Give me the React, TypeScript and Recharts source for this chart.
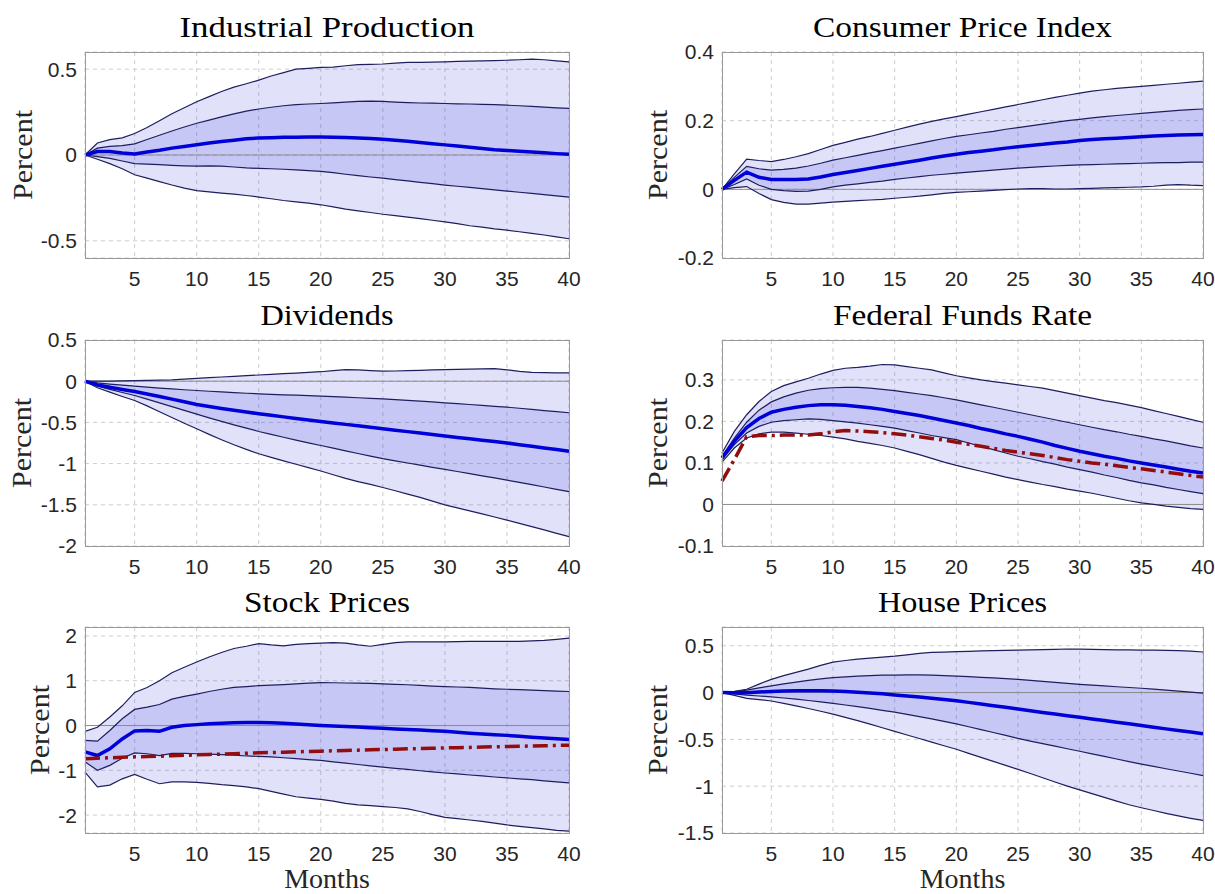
import {
  Area,
  CartesianGrid,
  ComposedChart,
  Line,
  ReferenceLine,
  XAxis,
  YAxis,
} from 'recharts'

// horizon in months
const months = [
  1, 2, 3, 4, 5, 6, 7, 8, 9, 10, 11, 12, 13, 14, 15, 16, 17, 18, 19, 20,
  21, 22, 23, 24, 25, 26, 27, 28, 29, 30, 31, 32, 33, 34, 35, 36, 37, 38, 39, 40,
]
const monthTicks = [5, 10, 15, 20, 25, 30, 35, 40]

// Industrial Production
const ipOuterHi = [0, 0.07, 0.09, 0.1, 0.125, 0.16, 0.2, 0.24, 0.275, 0.31, 0.34, 0.37, 0.395, 0.415, 0.436, 0.46, 0.48, 0.5, 0.505, 0.51, 0.512, 0.52, 0.527, 0.528, 0.53, 0.535, 0.54, 0.54, 0.541, 0.543, 0.545, 0.547, 0.548, 0.55, 0.552, 0.555, 0.558, 0.555, 0.548, 0.542]
const ipInnerHi = [0, 0.04, 0.05, 0.055, 0.065, 0.09, 0.115, 0.14, 0.163, 0.185, 0.203, 0.222, 0.24, 0.256, 0.268, 0.278, 0.287, 0.293, 0.297, 0.3, 0.304, 0.308, 0.312, 0.314, 0.312, 0.308, 0.305, 0.303, 0.302, 0.3, 0.298, 0.297, 0.295, 0.293, 0.29, 0.287, 0.283, 0.279, 0.275, 0.272]
const ipMedian = [0, 0.02, 0.02, 0.012, 0.006, 0.018, 0.028, 0.04, 0.05, 0.06, 0.07, 0.078, 0.086, 0.094, 0.099, 0.101, 0.103, 0.104, 0.105, 0.105, 0.104, 0.102, 0.099, 0.096, 0.092, 0.086, 0.08, 0.073, 0.066, 0.059, 0.052, 0.045, 0.038, 0.031, 0.026, 0.022, 0.018, 0.013, 0.008, 0.004]
const ipInnerLo = [0, -0.01, -0.02, -0.035, -0.05, -0.053, -0.056, -0.06, -0.063, -0.065, -0.063, -0.065, -0.07, -0.075, -0.078, -0.08, -0.083, -0.087, -0.091, -0.095, -0.103, -0.112, -0.12, -0.128, -0.135, -0.143, -0.151, -0.159, -0.167, -0.175, -0.182, -0.189, -0.196, -0.203, -0.21, -0.217, -0.224, -0.231, -0.238, -0.245]
const ipOuterLo = [0, -0.025, -0.05, -0.08, -0.115, -0.135, -0.155, -0.175, -0.193, -0.207, -0.215, -0.222, -0.228, -0.236, -0.245, -0.255, -0.265, -0.273, -0.28, -0.29, -0.302, -0.315, -0.325, -0.335, -0.345, -0.353, -0.362, -0.371, -0.38, -0.39, -0.4, -0.412, -0.42, -0.43, -0.438, -0.447, -0.456, -0.466, -0.477, -0.488]

// Consumer Price Index
const cpiOuterHi = [0, 0.045, 0.088, 0.084, 0.081, 0.087, 0.095, 0.104, 0.116, 0.128, 0.137, 0.146, 0.154, 0.163, 0.172, 0.181, 0.19, 0.198, 0.205, 0.212, 0.219, 0.226, 0.233, 0.24, 0.247, 0.254, 0.261, 0.268, 0.274, 0.28, 0.286, 0.29, 0.294, 0.297, 0.3, 0.303, 0.306, 0.309, 0.312, 0.315]
const cpiInnerHi = [0, 0.035, 0.067, 0.06, 0.056, 0.058, 0.062, 0.068, 0.076, 0.085, 0.092, 0.099, 0.106, 0.113, 0.12, 0.127, 0.134, 0.141, 0.148, 0.154, 0.159, 0.164, 0.169, 0.175, 0.18, 0.185, 0.19, 0.195, 0.2, 0.204, 0.208, 0.212, 0.215, 0.218, 0.221, 0.224, 0.227, 0.23, 0.232, 0.234]
const cpiMedian = [0, 0.026, 0.05, 0.035, 0.029, 0.029, 0.029, 0.03, 0.036, 0.043, 0.049, 0.055, 0.061, 0.067, 0.073, 0.079, 0.085, 0.091, 0.097, 0.102, 0.107, 0.111, 0.115, 0.12, 0.124, 0.128, 0.131, 0.135, 0.138, 0.142, 0.145, 0.147, 0.149, 0.151, 0.153, 0.155, 0.157, 0.158, 0.159, 0.16]
const cpiInnerLo = [0, 0.014, 0.03, 0.012, 0, -0.004, -0.006, -0.005, 0, 0.007, 0.012, 0.016, 0.02, 0.024, 0.029, 0.033, 0.037, 0.041, 0.044, 0.047, 0.05, 0.053, 0.056, 0.059, 0.062, 0.064, 0.066, 0.068, 0.07, 0.071, 0.072, 0.073, 0.074, 0.075, 0.076, 0.077, 0.078, 0.078, 0.079, 0.079]
const cpiOuterLo = [0, 0.005, 0.008, -0.012, -0.03, -0.038, -0.043, -0.043, -0.04, -0.037, -0.035, -0.033, -0.031, -0.029, -0.026, -0.023, -0.02, -0.016, -0.012, -0.009, -0.007, -0.005, -0.003, -0.001, 0.001, 0.002, 0.002, 0.001, 0.001, 0.002, 0.003, 0.004, 0.005, 0.006, 0.007, 0.009, 0.012, 0.014, 0.012, 0.011]

// Dividends
const divOuterHi = [0, 0, 0.002, 0.004, 0.006, 0.009, 0.012, 0.016, 0.025, 0.035, 0.043, 0.051, 0.059, 0.067, 0.075, 0.083, 0.091, 0.099, 0.107, 0.115, 0.128, 0.14, 0.137, 0.128, 0.122, 0.124, 0.128, 0.132, 0.137, 0.14, 0.143, 0.146, 0.15, 0.153, 0.138, 0.12, 0.108, 0.103, 0.101, 0.1]
const divInnerHi = [0, -0.02, -0.035, -0.048, -0.06, -0.072, -0.083, -0.094, -0.104, -0.113, -0.122, -0.13, -0.138, -0.146, -0.153, -0.159, -0.165, -0.17, -0.175, -0.18, -0.187, -0.194, -0.201, -0.208, -0.214, -0.223, -0.232, -0.242, -0.252, -0.262, -0.272, -0.283, -0.294, -0.305, -0.315, -0.328, -0.342, -0.356, -0.37, -0.383]
const divMedian = [0, -0.045, -0.073, -0.1, -0.125, -0.155, -0.186, -0.218, -0.25, -0.283, -0.308, -0.331, -0.353, -0.374, -0.395, -0.414, -0.433, -0.452, -0.47, -0.488, -0.506, -0.524, -0.542, -0.56, -0.577, -0.595, -0.612, -0.63, -0.648, -0.665, -0.682, -0.699, -0.716, -0.733, -0.75, -0.77, -0.79, -0.81, -0.83, -0.85]
const divInnerLo = [0, -0.06, -0.1, -0.137, -0.173, -0.218, -0.263, -0.308, -0.354, -0.4, -0.445, -0.488, -0.53, -0.57, -0.61, -0.645, -0.68, -0.715, -0.748, -0.78, -0.812, -0.845, -0.877, -0.909, -0.94, -0.967, -0.993, -1.019, -1.045, -1.07, -1.096, -1.122, -1.148, -1.174, -1.2, -1.228, -1.256, -1.284, -1.312, -1.34]
const divOuterLo = [0, -0.08, -0.133, -0.185, -0.234, -0.3, -0.37, -0.44, -0.51, -0.577, -0.645, -0.71, -0.772, -0.828, -0.88, -0.925, -0.967, -1.008, -1.048, -1.09, -1.135, -1.18, -1.218, -1.253, -1.29, -1.33, -1.37, -1.41, -1.455, -1.5, -1.537, -1.574, -1.611, -1.648, -1.685, -1.725, -1.765, -1.805, -1.846, -1.887]

// Federal Funds Rate
const ffrOuterHi = [0.124, 0.176, 0.216, 0.248, 0.272, 0.286, 0.295, 0.304, 0.314, 0.323, 0.328, 0.33, 0.333, 0.337, 0.336, 0.332, 0.328, 0.324, 0.317, 0.31, 0.305, 0.3, 0.296, 0.292, 0.288, 0.284, 0.28, 0.274, 0.268, 0.262, 0.256, 0.25, 0.245, 0.239, 0.233, 0.226, 0.219, 0.212, 0.205, 0.198]
const ffrInnerHi = [0.116, 0.16, 0.198, 0.227, 0.247, 0.259, 0.268, 0.275, 0.279, 0.281, 0.282, 0.282, 0.28, 0.277, 0.274, 0.27, 0.266, 0.262, 0.257, 0.252, 0.246, 0.24, 0.234, 0.228, 0.222, 0.216, 0.21, 0.204, 0.198, 0.192, 0.186, 0.18, 0.175, 0.169, 0.164, 0.158, 0.153, 0.147, 0.141, 0.136]
const ffrMedian = [0.112, 0.152, 0.185, 0.207, 0.222, 0.229, 0.234, 0.238, 0.24, 0.24, 0.239, 0.236, 0.233, 0.229, 0.224, 0.219, 0.214, 0.208, 0.202, 0.196, 0.19, 0.183, 0.177, 0.17, 0.164, 0.157, 0.15, 0.142, 0.135, 0.128, 0.122, 0.116, 0.111, 0.105, 0.1, 0.095, 0.09, 0.085, 0.08, 0.076]
const ffrInnerLo = [0.108, 0.144, 0.172, 0.188, 0.198, 0.202, 0.204, 0.206, 0.205, 0.202, 0.199, 0.196, 0.192, 0.188, 0.184, 0.178, 0.172, 0.166, 0.161, 0.156, 0.148, 0.14, 0.132, 0.124, 0.116, 0.11, 0.103, 0.097, 0.09, 0.084, 0.078, 0.071, 0.065, 0.058, 0.052, 0.047, 0.041, 0.036, 0.031, 0.026]
const ffrOuterLo = [0.102, 0.136, 0.16, 0.17, 0.174, 0.174, 0.172, 0.169, 0.166, 0.162, 0.158, 0.152, 0.147, 0.142, 0.136, 0.128, 0.12, 0.111, 0.102, 0.094, 0.087, 0.08, 0.073, 0.066, 0.06, 0.054, 0.048, 0.043, 0.037, 0.032, 0.027, 0.021, 0.015, 0.009, 0.004, 0, -0.004, -0.007, -0.01, -0.012]
const ffrRed = [0.056, 0.108, 0.163, 0.166, 0.166, 0.167, 0.167, 0.167, 0.17, 0.175, 0.178, 0.177, 0.175, 0.173, 0.17, 0.167, 0.163, 0.159, 0.155, 0.15, 0.145, 0.14, 0.135, 0.13, 0.126, 0.122, 0.118, 0.113, 0.108, 0.104, 0.1, 0.097, 0.093, 0.089, 0.086, 0.082, 0.078, 0.074, 0.07, 0.066]

// Stock Prices
const spOuterHi = [-0.13, -0.04, 0.19, 0.44, 0.74, 0.85, 1.0, 1.18, 1.3, 1.42, 1.53, 1.63, 1.72, 1.77, 1.83, 1.8, 1.78, 1.81, 1.83, 1.84, 1.85, 1.84, 1.8, 1.77, 1.81, 1.85, 1.87, 1.87, 1.87, 1.87, 1.875, 1.88, 1.88, 1.88, 1.88, 1.88, 1.89, 1.9, 1.925, 1.95]
const spInnerHi = [-0.33, -0.35, -0.11, 0.15, 0.36, 0.41, 0.47, 0.59, 0.65, 0.7, 0.76, 0.81, 0.85, 0.87, 0.89, 0.9, 0.915, 0.93, 0.945, 0.96, 0.955, 0.95, 0.945, 0.94, 0.93, 0.92, 0.91, 0.895, 0.88, 0.87, 0.86, 0.85, 0.835, 0.82, 0.81, 0.8, 0.79, 0.78, 0.77, 0.76]
const spMedian = [-0.59, -0.67, -0.52, -0.3, -0.12, -0.11, -0.13, -0.04, 0, 0.02, 0.04, 0.05, 0.06, 0.065, 0.065, 0.06, 0.05, 0.035, 0.015, 0, -0.01, -0.02, -0.035, -0.05, -0.06, -0.075, -0.09, -0.1, -0.115, -0.13, -0.15, -0.17, -0.19, -0.205, -0.22, -0.24, -0.26, -0.28, -0.295, -0.31]
const spInnerLo = [-0.81, -1.0, -0.89, -0.73, -0.61, -0.63, -0.67, -0.62, -0.62, -0.63, -0.64, -0.65, -0.66, -0.68, -0.69, -0.7, -0.72, -0.74, -0.76, -0.78, -0.81, -0.84, -0.87, -0.9, -0.93, -0.955, -0.98, -1.01, -1.035, -1.06, -1.08, -1.105, -1.125, -1.15, -1.17, -1.19, -1.21, -1.235, -1.26, -1.28]
const spOuterLo = [-1.04, -1.37, -1.33, -1.19, -1.09, -1.2, -1.3, -1.26, -1.26, -1.27, -1.29, -1.32, -1.34, -1.37, -1.41, -1.47, -1.53, -1.59, -1.62, -1.65, -1.69, -1.74, -1.77, -1.79, -1.81, -1.83, -1.86, -1.92, -1.99, -2.05, -2.08, -2.11, -2.14, -2.18, -2.22, -2.25, -2.28, -2.31, -2.34, -2.36]
const spRed = [-0.74, -0.73, -0.72, -0.71, -0.7, -0.69, -0.685, -0.675, -0.665, -0.655, -0.645, -0.638, -0.63, -0.62, -0.61, -0.603, -0.595, -0.587, -0.58, -0.572, -0.565, -0.558, -0.55, -0.543, -0.536, -0.528, -0.521, -0.514, -0.507, -0.5, -0.494, -0.488, -0.482, -0.475, -0.469, -0.463, -0.457, -0.451, -0.445, -0.44]

// House Prices
const hpOuterHi = [0, 0.012, 0.035, 0.09, 0.14, 0.18, 0.215, 0.25, 0.29, 0.325, 0.342, 0.356, 0.368, 0.378, 0.388, 0.402, 0.418, 0.428, 0.432, 0.437, 0.44, 0.444, 0.447, 0.45, 0.454, 0.456, 0.458, 0.461, 0.465, 0.463, 0.46, 0.458, 0.456, 0.455, 0.454, 0.453, 0.451, 0.448, 0.442, 0.433]
const hpInnerHi = [0, 0.01, 0.025, 0.05, 0.072, 0.093, 0.112, 0.13, 0.146, 0.16, 0.168, 0.175, 0.181, 0.185, 0.187, 0.188, 0.188, 0.185, 0.181, 0.176, 0.17, 0.163, 0.156, 0.148, 0.14, 0.13, 0.12, 0.109, 0.098, 0.088, 0.08, 0.071, 0.062, 0.054, 0.046, 0.036, 0.026, 0.015, 0.004, -0.007]
const hpMedian = [0, -0.002, -0.002, 0.005, 0.012, 0.016, 0.018, 0.019, 0.019, 0.017, 0.011, 0.004, -0.004, -0.014, -0.025, -0.036, -0.048, -0.061, -0.074, -0.088, -0.105, -0.122, -0.14, -0.158, -0.176, -0.194, -0.212, -0.229, -0.247, -0.264, -0.282, -0.299, -0.317, -0.334, -0.352, -0.37, -0.388, -0.405, -0.422, -0.44]
const hpInnerLo = [0, -0.015, -0.028, -0.037, -0.046, -0.058, -0.071, -0.085, -0.1, -0.116, -0.133, -0.151, -0.17, -0.19, -0.21, -0.233, -0.257, -0.282, -0.308, -0.335, -0.365, -0.396, -0.427, -0.458, -0.49, -0.518, -0.545, -0.572, -0.6, -0.627, -0.655, -0.682, -0.71, -0.737, -0.764, -0.789, -0.814, -0.838, -0.862, -0.887]
const hpOuterLo = [0, -0.03, -0.062, -0.075, -0.09, -0.115, -0.142, -0.17, -0.2, -0.23, -0.265, -0.3, -0.337, -0.376, -0.415, -0.453, -0.491, -0.53, -0.568, -0.606, -0.649, -0.692, -0.735, -0.778, -0.82, -0.865, -0.91, -0.955, -1.0, -1.04, -1.08, -1.12, -1.16, -1.198, -1.23, -1.26, -1.29, -1.318, -1.343, -1.366]

type PanelSpec = {
  title: string
  titleWidth: number
  row: number
  col: number
  yTicks: number[]
  yDomain: [number, number]
  percentX: number
  outerLo: number[]
  innerLo: number[]
  median: number[]
  innerHi: number[]
  outerHi: number[]
  red?: number[]
}

const panels: PanelSpec[] = [
  { title: 'Industrial Production', titleWidth: 295, row: 0, col: 0, yTicks: [-0.5, 0, 0.5], yDomain: [-0.6, 0.6], percentX: 32, outerLo: ipOuterLo, innerLo: ipInnerLo, median: ipMedian, innerHi: ipInnerHi, outerHi: ipOuterHi },
  { title: 'Consumer Price Index', titleWidth: 299, row: 0, col: 1, yTicks: [-0.2, 0, 0.2, 0.4], yDomain: [-0.2, 0.4], percentX: 667, outerLo: cpiOuterLo, innerLo: cpiInnerLo, median: cpiMedian, innerHi: cpiInnerHi, outerHi: cpiOuterHi },
  { title: 'Dividends', titleWidth: 133, row: 1, col: 0, yTicks: [-2, -1.5, -1, -0.5, 0, 0.5], yDomain: [-2, 0.5], percentX: 31, outerLo: divOuterLo, innerLo: divInnerLo, median: divMedian, innerHi: divInnerHi, outerHi: divOuterHi },
  { title: 'Federal Funds Rate', titleWidth: 259, row: 1, col: 1, yTicks: [-0.1, 0, 0.1, 0.2, 0.3], yDomain: [-0.1, 0.396], percentX: 667, outerLo: ffrOuterLo, innerLo: ffrInnerLo, median: ffrMedian, innerHi: ffrInnerHi, outerHi: ffrOuterHi, red: ffrRed },
  { title: 'Stock Prices', titleWidth: 166, row: 2, col: 0, yTicks: [-2, -1, 0, 1, 2], yDomain: [-2.4, 2.2], percentX: 49, outerLo: spOuterLo, innerLo: spInnerLo, median: spMedian, innerHi: spInnerHi, outerHi: spOuterHi, red: spRed },
  { title: 'House Prices', titleWidth: 169, row: 2, col: 1, yTicks: [-1.5, -1, -0.5, 0, 0.5], yDomain: [-1.5, 0.7], percentX: 667, outerLo: hpOuterLo, innerLo: hpInnerLo, median: hpMedian, innerHi: hpInnerHi, outerHi: hpOuterHi },
]

const COL_LEFT = [85, 722]
const COL_WIDTH = [484, 481]
const ROW_TOP = [52, 340, 627]
const PLOT_H = 206
const Y_W = 70
const M_TOP = 16
const M_RIGHT = 22
const X_H = 44

const tickStyle = { fill: '#262626', fontSize: 21, fontFamily: '"Liberation Sans", Arial, sans-serif' }
const serif = '"Liberation Serif", "Times New Roman", serif'
const edge = { stroke: '#1e1e5e', strokeWidth: 1.2 }

function Panel({ p }: { p: PanelSpec }) {
  const left = COL_LEFT[p.col]
  const plotW = COL_WIDTH[p.col]
  const top = ROW_TOP[p.row]
  const rows = months.map((m, i) => ({
    m,
    outer: [p.outerLo[i], p.outerHi[i]],
    inner: [p.innerLo[i], p.innerHi[i]],
    oLo: p.outerLo[i],
    iLo: p.innerLo[i],
    med: p.median[i],
    iHi: p.innerHi[i],
    oHi: p.outerHi[i],
    red: p.red ? p.red[i] : null,
  }))

  return (
    <>
      <div style={{ position: 'absolute', left: left - Y_W, top: top - M_TOP }}>
        <ComposedChart
          width={Y_W + plotW + M_RIGHT}
          height={M_TOP + PLOT_H + X_H}
          data={rows}
          margin={{ top: M_TOP, right: M_RIGHT, left: 0, bottom: 0 }}
        >
          <CartesianGrid stroke="#cdcdcd" strokeDasharray="4 4" />
          <XAxis
            dataKey="m"
            type="number"
            domain={[1, 40]}
            ticks={monthTicks}
            interval={0}
            height={X_H}
            tickSize={0}
            tickMargin={13}
            axisLine={false}
            tickLine={false}
            tick={tickStyle}
          />
          <YAxis
            type="number"
            domain={p.yDomain}
            ticks={p.yTicks}
            interval={0}
            width={Y_W}
            tickSize={0}
            tickMargin={8}
            axisLine={false}
            tickLine={false}
            allowDataOverflow
            tick={tickStyle}
          />
          <Area dataKey="outer" type="linear" fill="#3333dd" fillOpacity={0.15} stroke="none" isAnimationActive={false} />
          <Area dataKey="inner" type="linear" fill="#3333dd" fillOpacity={0.15} stroke="none" isAnimationActive={false} />
          <ReferenceLine y={0} stroke="#8c8c8c" strokeWidth={1} />
          <Line dataKey="oLo" type="linear" {...edge} dot={false} activeDot={false} isAnimationActive={false} />
          <Line dataKey="iLo" type="linear" {...edge} dot={false} activeDot={false} isAnimationActive={false} />
          <Line dataKey="iHi" type="linear" {...edge} dot={false} activeDot={false} isAnimationActive={false} />
          <Line dataKey="oHi" type="linear" {...edge} dot={false} activeDot={false} isAnimationActive={false} />
          <Line dataKey="med" type="linear" stroke="#0000d8" strokeWidth={3.5} dot={false} activeDot={false} isAnimationActive={false} />
          {p.red && (
            <Line dataKey="red" type="linear" stroke="#920d0d" strokeWidth={3.5} strokeDasharray="15 5 3 5" dot={false} activeDot={false} isAnimationActive={false} />
          )}
        </ComposedChart>
      </div>
      <div
        style={{
          position: 'absolute',
          left,
          top,
          width: plotW + 1,
          height: PLOT_H + 1,
          border: '1px solid #9a9a9a',
          boxSizing: 'border-box',
          pointerEvents: 'none',
        }}
      />
    </>
  )
}

export default function App() {
  return (
    <div style={{ position: 'absolute', left: 0, top: 0, width: 1215, height: 894, overflow: 'hidden', background: '#fff' }}>
      {panels.map((p) => (
        <Panel key={p.title} p={p} />
      ))}
      <svg width={1215} height={894} style={{ position: 'absolute', left: 0, top: 0, pointerEvents: 'none' }}>
        {panels.map((p) => {
          const cx = COL_LEFT[p.col] + COL_WIDTH[p.col] / 2
          const top = ROW_TOP[p.row]
          return (
            <g key={p.title}>
              <text
                x={cx}
                y={top - 15}
                textAnchor="middle"
                fontFamily={serif}
                fontSize={30}
                fill="#000"
                textLength={p.titleWidth}
                lengthAdjust="spacingAndGlyphs"
              >
                {p.title}
              </text>
              <text
                transform={`translate(${p.percentX}, ${top + PLOT_H / 2}) rotate(-90)`}
                textAnchor="middle"
                fontFamily={serif}
                fontSize={28}
                fill="#262626"
                textLength={90}
                lengthAdjust="spacingAndGlyphs"
              >
                Percent
              </text>
              {p.row === 2 && (
                <text x={cx} y={888} textAnchor="middle" fontFamily={serif} fontSize={28} fill="#262626">
                  Months
                </text>
              )}
            </g>
          )
        })}
      </svg>
    </div>
  )
}
